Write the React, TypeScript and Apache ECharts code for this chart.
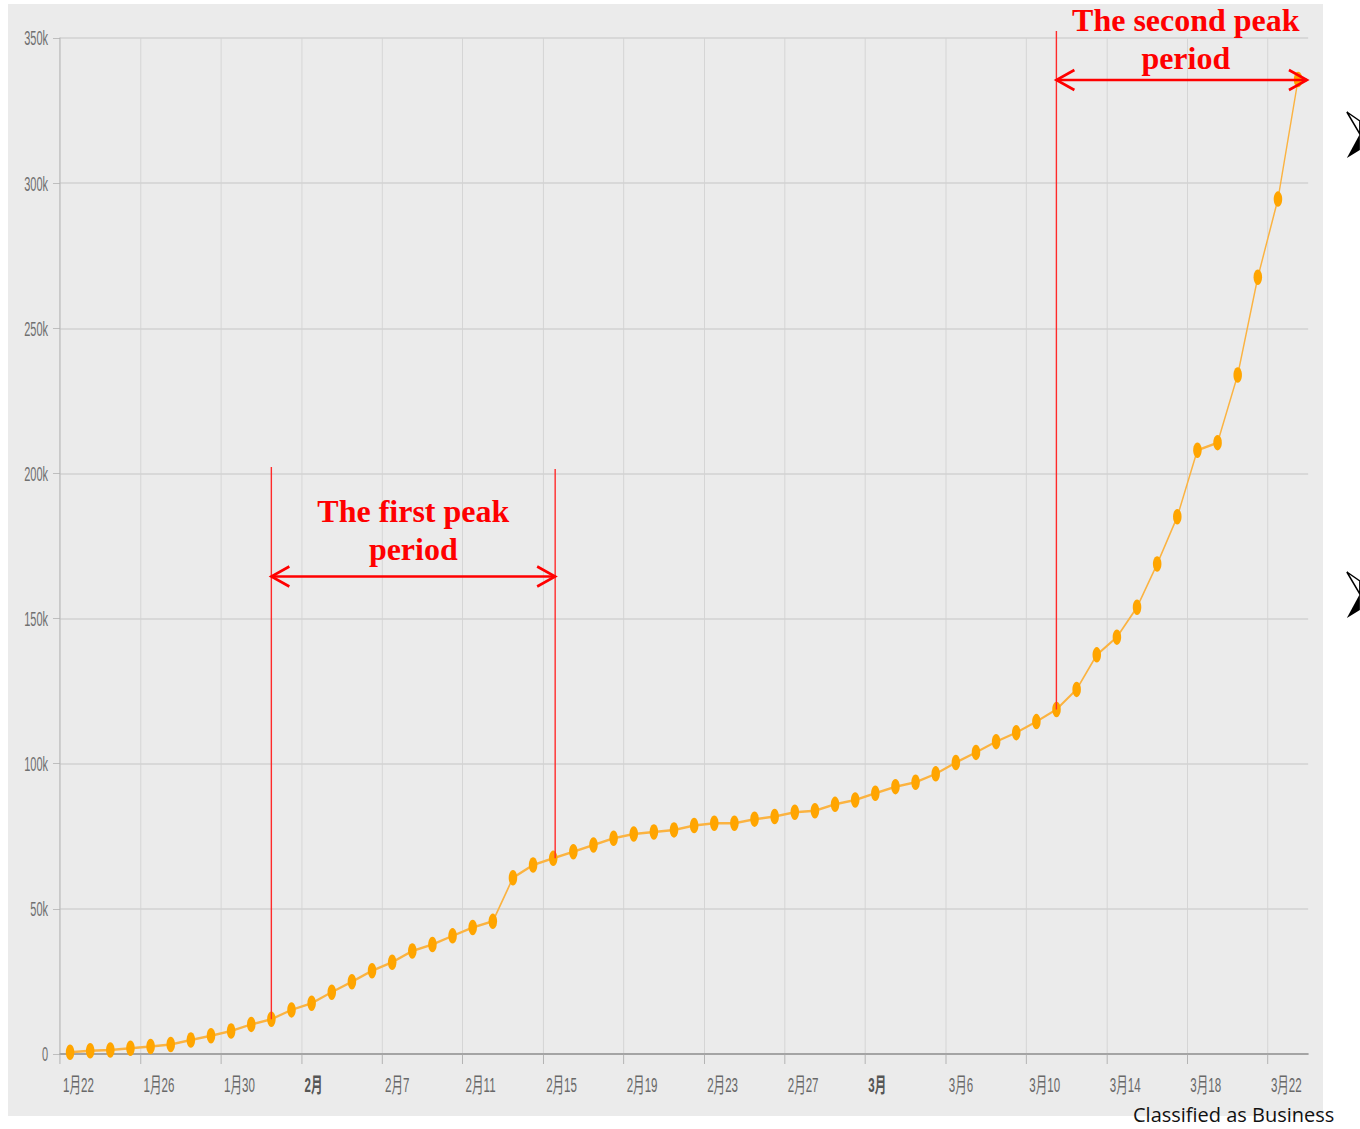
import React, { useEffect, useRef } from 'react';
import * as echarts from 'echarts';

// horizontal squeeze of the original screenshot
const S = 0.55;
const PAGE_W = 1360;
const PAGE_H = 1129;

const categories = [
  '1/22', '1/23', '1/24', '1/25', '1/26', '1/27', '1/28', '1/29', '1/30', '1/31',
  '2/1', '2/2', '2/3', '2/4', '2/5', '2/6', '2/7', '2/8', '2/9', '2/10',
  '2/11', '2/12', '2/13', '2/14', '2/15', '2/16', '2/17', '2/18', '2/19', '2/20',
  '2/21', '2/22', '2/23', '2/24', '2/25', '2/26', '2/27', '2/28', '2/29',
  '3/1', '3/2', '3/3', '3/4', '3/5', '3/6', '3/7', '3/8', '3/9', '3/10',
  '3/11', '3/12', '3/13', '3/14', '3/15', '3/16', '3/17', '3/18', '3/19', '3/20',
  '3/21', '3/22', '3/23',
];

const tickLabels = [
  '1月22', '1月26', '1月30', '2月', '2月7', '2月11', '2月15', '2月19',
  '2月23', '2月27', '3月', '3月6', '3月10', '3月14', '3月18', '3月22',
];

const cases = [
  600, 1100, 1400, 2000, 2600, 3300, 4800, 6300, 7900, 10200,
  12000, 15200, 17500, 21300, 24900, 28700, 31600, 35500, 37700, 40700,
  43600, 45700, 60700, 65100, 67400, 69700, 72000, 74300, 75800, 76500,
  77200, 78700, 79500, 79500, 80900, 81800, 83300, 83800, 86000, 87500,
  89800, 92100, 93600, 96500, 100400, 103900, 107600, 110700, 114500, 118700,
  125600, 137500, 143600, 153900, 168800, 185100, 208000, 210600, 233900, 267600,
  294500, 335700,
];

const firstPeak = { start: 10, end: 24, title: 'The first peak\nperiod' };
const secondPeak = { start: 49, end: 61, title: 'The second peak\nperiod' };
const footerText = 'Classified as Business';

const Y_MAX = 350000;
const Y_STEP = 50000;

export default function App() {
  const ref = useRef<HTMLDivElement>(null);

  useEffect(() => {
    if (!ref.current) return;
    const chart = echarts.init(ref.current, undefined, { renderer: 'svg' });

    const boundaries = Array.from({ length: categories.length + 1 }, (_, i) =>
      i % 4 === 0 ? tickLabels[i / 4] ?? '' : ''
    );

    const labelFont = 'Liberation Sans, Noto Sans CJK SC';

    const option: any = {
      animation: false,
      backgroundColor: 'transparent',
      grid: {
        left: 60 / S,
        right: (PAGE_W - 1308) / S,
        top: 38,
        bottom: PAGE_H - 1054,
      },
      xAxis: [
        {
          type: 'category',
          data: categories,
          boundaryGap: true,
          show: false,
          position: 'top',
        },
        {
          type: 'category',
          data: boundaries,
          boundaryGap: false,
          position: 'bottom',
          axisLine: { show: true, lineStyle: { color: '#a4a4a4', width: 2 } },
          axisTick: { show: true, interval: 3, length: 10, lineStyle: { color: '#a8a8a8', width: 1.5 } },
          splitLine: { show: true, interval: 3, lineStyle: { color: '#d2d2d2', width: 1.6 } },
          axisLabel: {
            interval: 3,
            align: 'left',
            margin: 21,
            formatter: (v: string) => {
              if (!v) return '';
              return v.endsWith('月') ? '{b|' + v + '}' : '{a|' + v + '}';
            },
            rich: {
              a: { color: '#686868', fontSize: 21, fontFamily: labelFont, padding: [0, 0, 0, 3 / S] },
              b: { color: '#555', fontSize: 21, fontWeight: 'bold', fontFamily: labelFont, padding: [0, 0, 0, 3 / S] },
            },
          },
        },
      ],
      yAxis: {
        type: 'value',
        min: 0,
        max: Y_MAX,
        interval: Y_STEP,
        axisLine: { show: true, lineStyle: { color: '#b0b0b0', width: 1.5 } },
        axisTick: { show: true, length: 7 / S, lineStyle: { color: '#b0b0b0' } },
        splitLine: { show: true, lineStyle: { color: '#d2d2d2', width: 1.5 } },
        axisLabel: {
          margin: 12 / S,
          color: '#707070',
          fontSize: 20,
          fontFamily: 'Liberation Sans',
          formatter: (v: number) => (v === 0 ? '0' : v / 1000 + 'k'),
        },
      },
      series: [
        {
          type: 'line',
          xAxisIndex: 0,
          yAxisIndex: 0,
          data: cases,
          symbol: 'circle',
          symbolSize: 15.5,
          itemStyle: { color: '#ffa500' },
          lineStyle: { color: '#fbb341', width: 2.5 },
          z: 3,
        },
      ],
    };

    chart.setOption(option);

    const pt = (i: number) => {
      const p = chart.convertToPixel({ xAxisIndex: 0, yAxisIndex: 0 }, [i, cases[i]]) as number[];
      return [p[0] * S, p[1]];
    };

    const RED = '#ff0000';
    const vline = (x: number, y1: number, y2: number) => ({
      type: 'line', z: 100,
      shape: { x1: x, y1, x2: x, y2 },
      style: { stroke: '#ff2a2a', lineWidth: 1.4 },
    });
    const arrow = (xa: number, xb: number, y: number) => [
      { type: 'line', z: 100, shape: { x1: xa, y1: y, x2: xb, y2: y }, style: { stroke: RED, lineWidth: 2.6 } },
      { type: 'polyline', z: 100, shape: { points: [[xa + 18, y - 10], [xa, y], [xa + 18, y + 10]] }, style: { stroke: RED, lineWidth: 2.6, fill: null } },
      { type: 'polyline', z: 100, shape: { points: [[xb - 18, y - 10], [xb, y], [xb - 18, y + 10]] }, style: { stroke: RED, lineWidth: 2.6, fill: null } },
    ];
    const label = (text: string, x: number, y: number) => ({
      type: 'text', z: 100, x, y,
      style: {
        text, fill: RED, fontSize: 32, fontWeight: 'bold', fontFamily: 'Liberation Serif',
        align: 'center', verticalAlign: 'top', lineHeight: 38,
      },
    });

    const a = pt(firstPeak.start);
    const b = pt(firstPeak.end);
    const c = pt(secondPeak.start);
    const d = pt(secondPeak.end);
    const bx = b[0] + 2;
    const dx = d[0] + 9;

    const star = (y0: number) => [
      { type: 'polygon', z: 100, shape: { points: [[1347, y0], [1360, y0 + 9], [1360, y0 + 22]] }, style: { fill: '#fff', stroke: '#000', lineWidth: 1.5 } },
      { type: 'polygon', z: 100, shape: { points: [[1347, y0 + 46], [1360, y0 + 22], [1360, y0 + 38]] }, style: { fill: '#000' } },
    ];

    chart.setOption({
      graphic: [
        {
          type: 'group',
          x: 0, y: 0, scaleX: 1 / S, scaleY: 1,
          children: [
            vline(a[0], 467, a[1]),
            vline(bx, 469, b[1]),
            vline(c[0], 31, c[1]),
            ...arrow(a[0], bx, 576.5),
            ...arrow(c[0], dx, 80),
            label(firstPeak.title, (a[0] + bx) / 2, 492),
            label(secondPeak.title, (c[0] + dx) / 2 + 4, 1),
            ...star(112),
            ...star(572),
            {
              type: 'text', z: 100, x: 1133, y: 1124,
              style: { text: footerText, fill: '#111', fontSize: 20, fontFamily: 'Open Sans', align: 'left', verticalAlign: 'bottom' },
            },
          ],
        },
      ],
    });

    return () => chart.dispose();
  }, []);

  return (
    <div style={{ position: 'fixed', left: 0, top: 0, width: PAGE_W, height: PAGE_H, overflow: 'hidden', background: '#fff' }}>
      <div style={{ position: 'absolute', left: 8, top: 4, width: 1315, height: 1112, background: '#ebebeb' }} />
      <div
        ref={ref}
        style={{
          position: 'absolute', left: 0, top: 0,
          width: PAGE_W / S, height: PAGE_H,
          transform: `scaleX(${S})`, transformOrigin: '0 0',
        }}
      />
    </div>
  );
}
